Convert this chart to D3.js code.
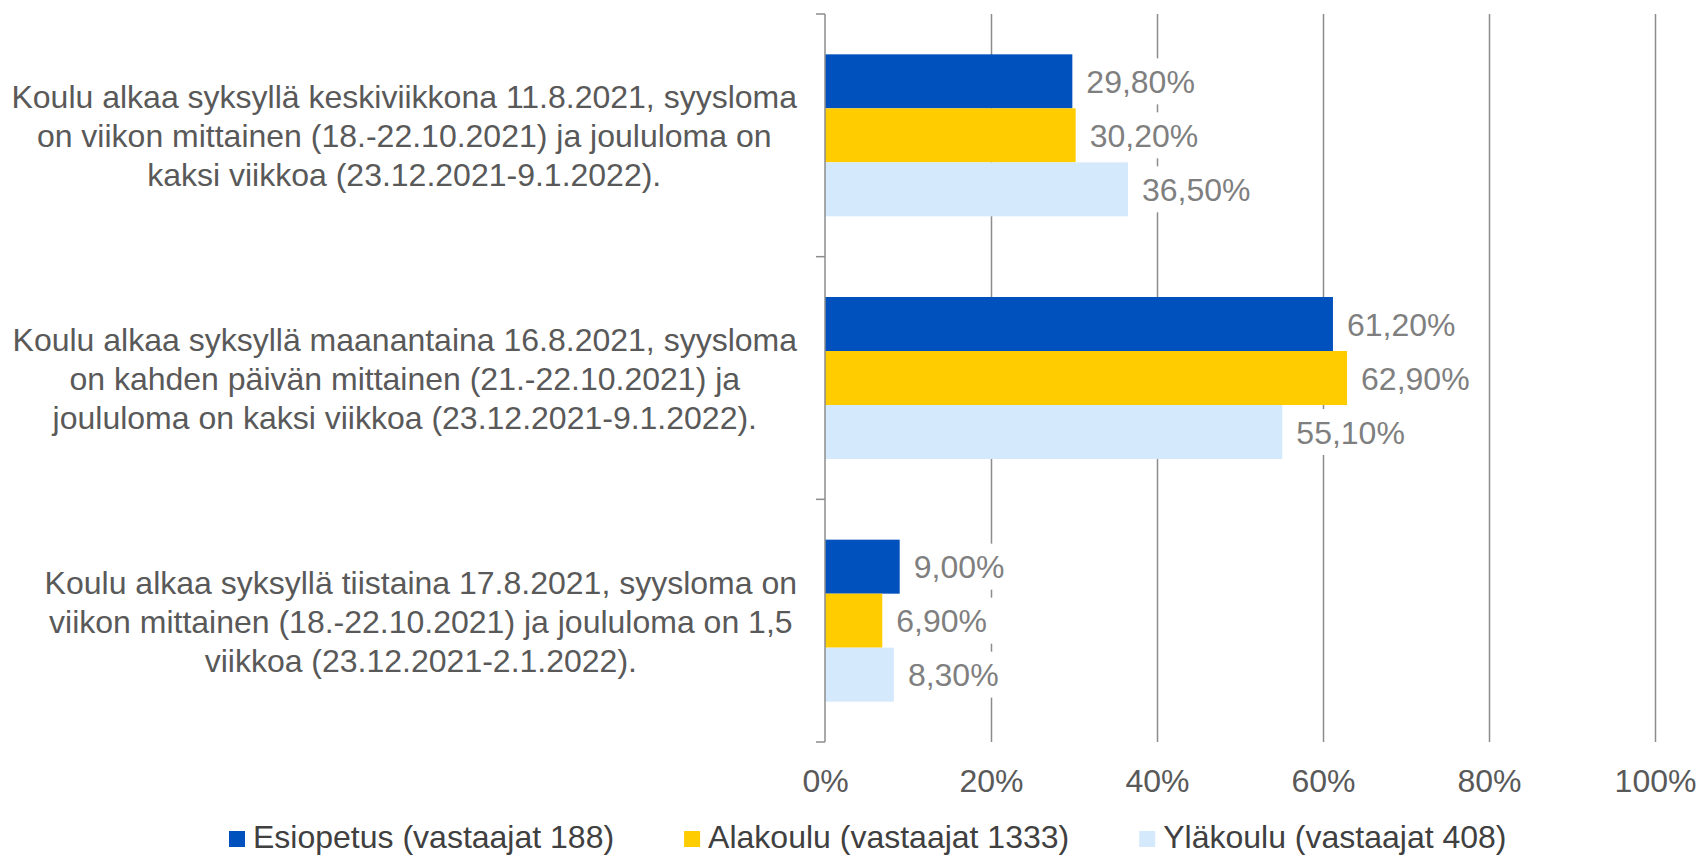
<!DOCTYPE html>
<html>
<head>
  <meta charset="utf-8">
  <title>Koulun alkaminen ja lomat</title>
  <style>
    body { margin: 0; background: #fff; }
    text { font-family: "Liberation Sans", Arial, sans-serif; }
  </style>
</head>
<body>

  <script src="https://cdn.jsdelivr.net/npm/d3@7"></script>
  <script type="text/javascript">

  // categories, one entry per line of the wrapped label
  var categories = [
    ['Koulu alkaa syksyllä keskiviikkona 11.8.2021, syysloma',
     'on viikon mittainen (18.-22.10.2021) ja joululoma on',
     'kaksi viikkoa (23.12.2021-9.1.2022).'],
    ['Koulu alkaa syksyllä maanantaina 16.8.2021, syysloma',
     'on kahden päivän mittainen (21.-22.10.2021) ja',
     'joululoma on kaksi viikkoa (23.12.2021-9.1.2022).'],
    ['Koulu alkaa syksyllä tiistaina 17.8.2021, syysloma on',
     'viikon mittainen (18.-22.10.2021) ja joululoma on 1,5',
     'viikkoa (23.12.2021-2.1.2022).']
  ];

  var seriesNames = [
    'Esiopetus (vastaajat 188)',
    'Alakoulu (vastaajat 1333)',
    'Yläkoulu (vastaajat 408)'
  ];

  var esiopetus = [0.298, 0.612, 0.090],
      alakoulu  = [0.302, 0.629, 0.069],
      ylakoulu  = [0.365, 0.551, 0.083];

  var xTicks = [0, 0.2, 0.4, 0.6, 0.8, 1];

  var colors = ['#0050bd', '#ffcc00', '#d5e9fc'];

  // note: "top" is taken by window.top, so plot edges get their own names
  var width = 1700,
      height = 856,
      plotLeft = 825, plotRight = 1655,
      plotTop = 14, plotBottom = 742;

  var svg = d3.select('body')
              .append('svg')
              .attr('width', width)
              .attr('height', height);

  var fi = d3.formatLocale({decimal: ',', thousands: '\u00a0', grouping: [3], currency: ['', '\u00a0€']}),
      labelFormat = fi.format('.2%'),
      tickFormat = d3.format('.0%');

  var values = [esiopetus, alakoulu, ylakoulu];

  var rows = categories.map(function(c, i){
    return values.map(function(v, s){ return {cat: i, s: s, value: v[i]} })
  });

  var x = d3.scaleLinear().domain([0, 1]).range([plotLeft, plotRight]),
      y = d3.scaleBand().domain(d3.range(categories.length)).range([plotTop, plotBottom]),
      ys = d3.scaleBand().domain(d3.range(seriesNames.length))
             .range([0, y.bandwidth()]).paddingOuter(0.747);

  // gridlines + tick labels
  var xAxis = svg.append('g')
     .attr('transform', 'translate(0,' + plotBottom + ')')
     .call(d3.axisBottom(x).tickValues(xTicks).tickFormat(tickFormat)
             .tickSize(-(plotBottom - plotTop)).tickPadding(27));
  xAxis.select('.domain').remove();
  xAxis.selectAll('line')
       .attr('stroke', '#8c8c8c').attr('stroke-width', 1.5)
       .filter(function(d){ return d === 0 }).remove();
  xAxis.selectAll('text')
       .attr('fill', '#595959').attr('font-size', 32);

  // bars
  var groups = svg.selectAll('g.cat')
     .data(rows)
     .enter()
     .append('g')
     .attr('class', 'cat')
     .attr('transform', function(d, i){ return 'translate(0,' + y(i) + ')' });

  groups.selectAll('rect.bar')
     .data(function(d){ return d })
     .enter()
     .append('rect')
     .attr('class', 'bar')
     .attr('x', x(0))
     .attr('y', function(d){ return ys(d.s) })
     .attr('width', function(d){ return x(d.value) - x(0) })
     .attr('height', ys.bandwidth())
     .attr('fill', function(d){ return colors[d.s] });

  // data labels with white boxes over the gridlines
  var labels = groups.selectAll('g.lab')
     .data(function(d){ return d })
     .enter()
     .append('g')
     .attr('class', 'lab')
     .attr('transform', function(d){
       return 'translate(' + (x(d.value) + 14) + ',' + (ys(d.s) + ys.bandwidth() / 2) + ')'
     });

  labels.append('rect').attr('fill', '#fff');
  labels.append('text')
     .attr('dy', '0.36em')
     .attr('font-size', 32)
     .attr('fill', '#7f7f7f')
     .text(function(d){ return labelFormat(d.value) });
  labels.each(function(){
    var g = d3.select(this),
        w = g.select('text').node().getComputedTextLength();
    g.select('rect').attr('x', -6).attr('y', -23).attr('width', w + 12).attr('height', 46);
  });

  // category axis
  var yAxis = svg.append('g')
     .attr('transform', 'translate(' + plotLeft + ',0)');
  yAxis.append('line')
     .attr('y1', plotTop).attr('y2', plotBottom)
     .attr('stroke', '#8c8c8c').attr('stroke-width', 1.5);
  yAxis.selectAll('line.tick')
     .data(d3.range(categories.length + 1))
     .enter()
     .append('line')
     .attr('class', 'tick')
     .attr('x1', -9).attr('x2', 0)
     .attr('y1', function(i){ return plotTop + i * y.step() })
     .attr('y2', function(i){ return plotTop + i * y.step() })
     .attr('stroke', '#8c8c8c').attr('stroke-width', 1.5);

  var lineH = 39;
  var catLabels = svg.selectAll('text.cat')
     .data(categories)
     .enter()
     .append('text')
     .attr('class', 'cat')
     .attr('font-size', 32)
     .attr('fill', '#595959')
     .attr('text-anchor', 'middle');

  catLabels.each(function(lines, i){
    var t = d3.select(this),
        cy = y(i) + y.bandwidth() / 2;
    t.selectAll('tspan')
     .data(lines)
     .enter()
     .append('tspan')
     .attr('y', function(l, j){ return cy + (j - (lines.length - 1) / 2) * lineH })
     .attr('dy', '0.37em')
     .text(function(l){ return l });
    var w = d3.max(t.selectAll('tspan').nodes(), function(n){ return n.getComputedTextLength() });
    t.selectAll('tspan').attr('x', plotLeft - 28 - w / 2);
  });

  // legend
  var legend = svg.append('g').attr('class', 'legend');
  var items = legend.selectAll('g')
     .data(seriesNames)
     .enter()
     .append('g');
  items.append('rect')
     .attr('y', 831).attr('width', 16).attr('height', 16)
     .attr('fill', function(d, i){ return colors[i] });
  items.append('text')
     .attr('x', 24).attr('y', 848)
     .attr('font-size', 32)
     .attr('fill', '#404040')
     .text(function(d){ return d });

  var pos = 229;
  items.each(function(){
    var g = d3.select(this),
        w = g.select('text').node().getComputedTextLength();
    g.attr('transform', 'translate(' + pos + ',0)');
    pos += 24 + w + 70;
  });

  </script>
</body>
</html>
